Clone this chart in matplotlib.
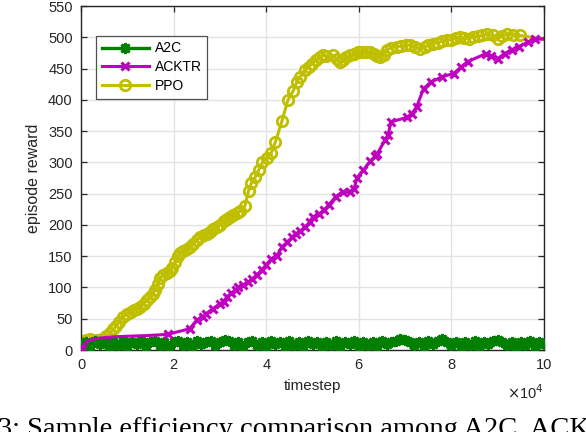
import numpy as np
import matplotlib
matplotlib.use("Agg")
import matplotlib.pyplot as plt
from matplotlib.ticker import FuncFormatter

# ---------------- data ----------------
a2c_t = np.arange(0, 100001, 1000)
a2c_r = [8, 13, 7, 14, 9, 12, 7, 13, 8, 14,
         7, 13, 9, 14, 7, 12, 14, 8, 13, 7,
         12, 14, 8, 13, 7, 14, 9, 12, 15, 8,
         13, 16, 15, 8, 13, 7, 12, 14, 8, 13,
         7, 14, 9, 12, 7, 14, 8, 13, 7, 14,
         9, 12, 7, 13, 8, 14, 7, 12, 9, 14,
         7, 13, 8, 12, 7, 14, 9, 12, 15, 17,
         16, 12, 8, 13, 7, 14, 9, 15, 18, 13,
         8, 13, 7, 12, 8, 14, 7, 13, 9, 15,
         16, 12, 8, 13, 7, 12, 8, 14, 7, 13, 10]

acktr_t = [200, 1000, 2000, 4000, 7000, 10000, 14000, 18700, 23500, 25000,
           26300, 27000, 28500, 30000, 30800, 31500, 32500, 33500, 34000, 35000,
           36000, 37000, 38000, 39000, 40000, 41000, 42300, 43400, 44500, 45500,
           46400, 47300, 48300, 49500, 50000, 51500, 52500, 53500, 55000, 56500,
           58000, 59000, 59600, 61000, 62500, 63500, 64000, 65700, 66300, 67000,
           70500, 71500, 72500, 74000, 75500, 78000, 80500, 82000, 83500, 87500,
           88500, 90000, 91500, 93000, 94500, 96500, 98000, 99800]
acktr_r = [3, 12, 16, 19, 21, 22, 23, 25, 34, 48,
           53, 58, 66, 74, 77, 85, 91, 96, 100, 104,
           108, 114, 120, 128, 136, 145, 150, 165, 172, 180,
           186, 190, 196, 205, 212, 218, 224, 232, 245, 253,
           253, 258, 275, 288, 302, 310, 314, 336, 344, 365,
           372, 378, 389, 418, 428, 437, 442, 452, 461, 474,
           470, 466, 474, 480, 485, 492, 497, 497]
acktr_marked = [0] + list(range(7, len(acktr_t) - 1))

ppo_t = [200, 500, 1000, 2000, 3500, 4500, 5500, 6300, 7000, 7500,
         8200, 9100, 10000, 10800, 11500, 12200, 12700, 13500, 14300, 15000,
         15500, 16000, 16600, 17100, 17700, 18500, 19200, 19700, 20300, 20900,
         21400, 22000, 22800, 23500, 24200, 25000, 25700, 26500, 27200, 27900,
         28600, 29300, 30000, 30800, 31500, 32200, 32800, 33600, 34400, 35400,
         36200, 36800, 37600, 38400, 39200, 40100, 41100, 42000, 43400, 44700,
         45800, 46600, 47300, 48400, 49200, 49900, 50800, 51600, 52300, 53000,
         54400, 55200, 55900, 56600, 57300, 58100, 59000, 59800, 60600, 61500,
         62400, 63200, 64000, 64600, 65400, 66100, 67000, 68300, 69200, 70100,
         71100, 72200, 73200, 74200, 75000, 76000, 77000, 78000, 79000, 80000,
         81000, 81900, 82800, 83700, 84700, 85700, 86700, 87700, 88900, 90100,
         91000, 92000, 93400, 94800, 99800]
ppo_r = [3, 13, 16, 17, 16, 18, 22, 27, 33, 38,
         44, 53, 58, 61, 64, 66, 69, 74, 80, 85,
         90, 96, 106, 115, 120, 123, 127, 131, 140, 150,
         155, 158, 162, 165, 170, 176, 181, 184, 186, 189,
         193, 197, 200, 206, 210, 213, 216, 219, 222, 230,
         255, 267, 276, 288, 300, 307, 315, 333, 366, 400,
         414, 428, 437, 448, 453, 458, 463, 468, 471, 470,
         471, 466, 461, 464, 469, 471, 474, 477, 477, 476,
         477, 473, 470, 469, 472, 480, 483, 485, 486, 487,
         488, 484, 481, 484, 488, 490, 491, 494, 496, 496,
         499, 500, 499, 498, 500, 502, 503, 505, 503, 498,
         502, 505, 504, 503, 497]
ppo_marked = list(range(len(ppo_t) - 1))

labels = ["A2C", "ACKTR", "PPO"]
x_ticks = [0, 20000, 40000, 60000, 80000, 100000]
y_ticks = list(range(0, 551, 50))

# ---------------- styling ----------------
plt.rcParams['font.family'] = ['Liberation Sans', 'DejaVu Sans']
txt = '#262626'

fig = plt.figure(figsize=(5.86, 4.32), dpi=100)
ax = fig.add_axes([81 / 586, 82 / 432, 463 / 586, 344 / 432])

ax.plot(a2c_t, a2c_r, color='#007F00', lw=2.4, marker=(8, 2, 0),
        markersize=8, mew=2.0, label=labels[0], zorder=3)
ax.plot(acktr_t, acktr_r, color='#BF00BF', lw=2.2, marker='x',
        markersize=6, mew=2.2, markevery=acktr_marked, label=labels[1], zorder=4)
ax.plot(ppo_t, ppo_r, color='#BFBF00', lw=2.2, marker='o', markerfacecolor='none',
        markersize=7.5, mew=2.0, markevery=ppo_marked, label=labels[2], zorder=2)

ax.set_xlim(0, 100000)
ax.set_ylim(0, 550)
ax.set_xticks(x_ticks)
ax.set_yticks(y_ticks)
ax.xaxis.set_major_formatter(FuncFormatter(lambda v, p: f"{v / 1e4:g}"))
ax.grid(True, color='#E3E3E3', lw=1.0)
ax.set_axisbelow(True)
ax.tick_params(direction='in', length=4, width=0.9, colors=txt,
               labelsize=10.5, top=True, right=True, pad=6)
for s in ax.spines.values():
    s.set_color(txt)
    s.set_linewidth(1.0)

ax.set_xlabel("timestep", fontsize=11, color=txt, labelpad=5)
ax.set_ylabel("episode reward", fontsize=11.5, color=txt, labelpad=5)
ax.text(1.0, -0.097, r"$\times$10$^4$", transform=ax.transAxes, ha='right',
        va='top', fontsize=10.5, color=txt)

leg = ax.legend(loc='upper left', bbox_to_anchor=(0.033, 0.913), fontsize=10,
                frameon=True, fancybox=False, edgecolor='#262626',
                handlelength=3.4, borderpad=0.4, labelspacing=0.35,
                handletextpad=0.4, borderaxespad=0)
leg.get_frame().set_linewidth(0.9)

fig.text(-2 / 586, 1 - 436 / 432,
         "3: Sample efficiency comparison among A2C, ACKTR, and PPO",
         family=['Liberation Serif', 'DejaVu Serif'], fontsize=20.5,
         ha='left', va='baseline', color='black')

fig.savefig("out.png", dpi=100)
